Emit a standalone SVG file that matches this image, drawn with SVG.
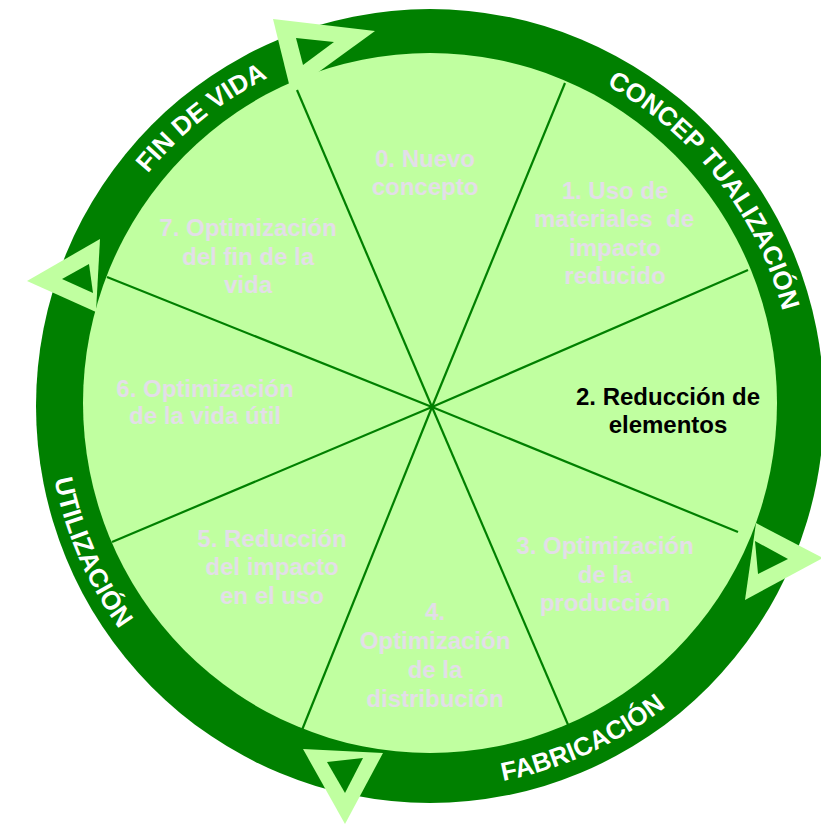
<svg xmlns="http://www.w3.org/2000/svg" width="821" height="825" viewBox="0 0 821 825">
<style>
.lbl{font-family:"Liberation Sans",Arial,sans-serif;font-weight:bold;font-size:24px;text-anchor:middle;fill:#E3DEE8}
.act{fill:#000}
.ring{font-family:"Liberation Sans",Arial,sans-serif;font-weight:bold;font-size:26px;fill:#fff}
.div{stroke:#008000;stroke-width:2.2;fill:none}
.arw{fill:#C0FFA0}
.hole{fill:#008000}
</style>
<defs>
<path id="pFin" d="M72.3,332.2 A365,365 0 0 1 439.6,40.1"/>
<path id="pCon" d="M442.7,40.2 A365,365 0 0 1 787,480.9"/>
<path id="pFab" d="M327.7,774.1 A383,383 0 0 0 775.7,569.9"/>
<path id="pUti" d="M62.8,296.2 A383,383 0 0 0 259.1,747.7"/>
</defs>
<g id="wheel">
<ellipse cx="430" cy="406" rx="394" ry="397" fill="#008000"/>
<ellipse cx="430" cy="403" rx="347" ry="350" fill="#C0FFA0"/>
</g>
<g id="connectors">
<line class="div" x1="432" y1="407" x2="297" y2="90"/>
<line class="div" x1="432" y1="407" x2="565" y2="83"/>
<line class="div" x1="432" y1="407" x2="748" y2="270"/>
<line class="div" x1="432" y1="407" x2="738" y2="532"/>
<line class="div" x1="432" y1="407" x2="569" y2="727"/>
<line class="div" x1="432" y1="407" x2="302" y2="730"/>
<line class="div" x1="432" y1="407" x2="112" y2="542"/>
<line class="div" x1="432" y1="407" x2="107" y2="277"/>
</g>
<g id="arrows">
<polygon class="arw" points="273,19 375,31 291,92"/>
<polygon class="hole" points="296,38 334,42 303,65"/>
<polygon class="arw" points="756,523 823,558 745,600"/>
<polygon class="hole" points="755,541 788,559 758,574"/>
<polygon class="arw" points="303,749 383,753 345,824"/>
<polygon class="hole" points="327,762 363,758 345,793"/>
<polygon class="arw" points="100,239 27,281 96,312"/>
<polygon class="hole" points="89,264 62,279 93,293"/>
</g>
<g id="phase-fin"><text class="ring"><textPath href="#pFin" startOffset="50%" text-anchor="middle">FIN DE VIDA</textPath></text></g>
<g id="phase-con"><text class="ring"><textPath href="#pCon" startOffset="50%" text-anchor="middle">CONCEP TUALIZACIÓN</textPath></text></g>
<g id="phase-fab"><text class="ring"><textPath href="#pFab" startOffset="50%" text-anchor="middle">FABRICACIÓN</textPath></text></g>
<g id="phase-uti"><text class="ring"><textPath href="#pUti" startOffset="50%" text-anchor="middle">UTILIZACIÓN</textPath></text></g>
<g id="s0"><text class="lbl" x="425" y="167">0. Nuevo</text><text class="lbl" x="425" y="195">concepto</text></g>
<g id="s1"><text class="lbl" x="615" y="199">1. Uso de</text><text class="lbl" x="614" y="227">materiales&#160; de</text><text class="lbl" x="615" y="256">impacto</text><text class="lbl" x="615" y="284">reducido</text></g>
<g id="s2"><text class="lbl act" x="668" y="405">2. Reducción de</text><text class="lbl act" x="668" y="433">elementos</text></g>
<g id="s3"><text class="lbl" x="605" y="554">3. Optimización</text><text class="lbl" x="605" y="583">de la</text><text class="lbl" x="605" y="611">producción</text></g>
<g id="s4"><text class="lbl" x="435" y="620">4.</text><text class="lbl" x="435" y="649">Optimización</text><text class="lbl" x="435" y="678">de la</text><text class="lbl" x="435" y="707">distribución</text></g>
<g id="s5"><text class="lbl" x="272" y="547">5. Reducción</text><text class="lbl" x="272" y="575">del impacto</text><text class="lbl" x="272" y="604">en el uso</text></g>
<g id="s6"><text class="lbl" x="205" y="397">6. Optimización</text><text class="lbl" x="205" y="424">de la vida útil</text></g>
<g id="s7"><text class="lbl" x="248" y="236">7. Optimización</text><text class="lbl" x="248" y="265">del fin de la</text><text class="lbl" x="248" y="293">vida</text></g>
</svg>
